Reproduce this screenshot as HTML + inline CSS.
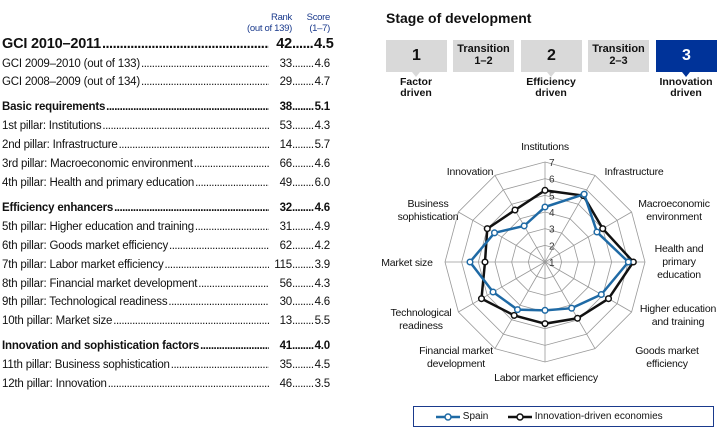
<!DOCTYPE html>
<html><head><meta charset="utf-8"><style>
body{margin:0;width:727px;height:441px;background:#fff;font-family:"Liberation Sans",sans-serif;color:#111;position:relative;overflow:hidden}
.row{position:absolute;left:2px;width:328px;height:16px;font-size:11.5px;line-height:16px;display:flex;white-space:nowrap;letter-spacing:-0.2px}
.row .l{flex:0 0 auto}
.row .d{flex:1 1 auto;overflow:hidden;margin:0 1px;letter-spacing:-0.5px}
.row .d::after{content:"........................................................................................................................................................................"}
.row .r{width:22px;text-align:right;flex:0 0 auto}
.row .d2{width:22px;overflow:hidden;flex:0 0 auto;letter-spacing:-0.5px}
.row .d2::after{content:"...................."}
.row .s{width:16px;text-align:right;flex:0 0 auto}
.b{font-weight:bold}
.big{font-size:14.5px;font-weight:bold}
.hdr{position:absolute;color:#1a3a8c;font-size:9.5px;text-align:right;line-height:11px;white-space:nowrap;letter-spacing:-0.3px}
.box{position:absolute;top:40px;width:61px;height:32px;background:#d9d9d9;text-align:center;font-weight:bold}
.box .n{font-size:16px;line-height:32px}
.box .t{font-size:11px;line-height:12px;padding-top:3px}
.box .tri{position:absolute;left:26px;bottom:-5px;width:0;height:0;border-left:4px solid transparent;border-right:4px solid transparent;border-top:5px solid #d9d9d9}
.lab{position:absolute;top:77px;width:70px;text-align:center;font-size:10.5px;font-weight:bold;line-height:11px}
</style></head><body>
<div class="hdr" style="left:232px;top:12px;width:60px">Rank<br>(out of 139)</div>
<div class="hdr" style="left:300px;top:12px;width:30px">Score<br>(1–7)</div>
<div id="table"></div>

<div style="position:absolute;left:386px;top:10px;font-size:14px;font-weight:bold">Stage of development</div>
<div class="box" style="left:386px"><div class="n">1</div><div class="tri"></div></div>
<div class="box" style="left:453px"><div class="t">Transition<br>1–2</div></div>
<div class="box" style="left:521px"><div class="n">2</div><div class="tri"></div></div>
<div class="box" style="left:588px"><div class="t">Transition<br>2–3</div></div>
<div class="box" style="left:656px;background:#003399;color:#fff"><div class="n">3</div><div class="tri" style="border-top-color:#003399"></div></div>
<div class="lab" style="left:381px">Factor<br>driven</div>
<div class="lab" style="left:516px">Efficiency<br>driven</div>
<div class="lab" style="left:651px">Innovation<br>driven</div>

<svg id="radar" width="727" height="441" style="position:absolute;left:0;top:0"></svg>

<div style="position:absolute;left:413px;top:406px;width:299px;height:19px;border:1px solid #1a3a8c;font-size:10px;line-height:19px">
 <span style="position:absolute;left:22px;display:flex;align-items:center;height:19px"><svg width="24" height="10"><line x1="0" y1="5" x2="24" y2="5" stroke="#1f6aa5" stroke-width="2.5"/><circle cx="12" cy="5" r="3" fill="#fff" stroke="#1f6aa5" stroke-width="1.5"/></svg>&nbsp;Spain</span>
 <span style="position:absolute;left:94px;display:flex;align-items:center;height:19px"><svg width="24" height="10"><line x1="0" y1="5" x2="24" y2="5" stroke="#111" stroke-width="2.5"/><circle cx="12" cy="5" r="3" fill="#fff" stroke="#111" stroke-width="1.5"/></svg>&nbsp;Innovation-driven economies</span>
</div>

<script>
const rows=[
["GCI 2010–2011","42","4.5",44,"big"],
["GCI 2009–2010 (out of 133)","33","4.6",64,""],
["GCI 2008–2009 (out of 134)","29","4.7",82,""],
["Basic requirements","38","5.1",107,"b"],
["1st pillar: Institutions","53","4.3",126,""],
["2nd pillar: Infrastructure","14","5.7",145,""],
["3rd pillar: Macroeconomic environment","66","4.6",164,""],
["4th pillar: Health and primary education","49","6.0",183,""],
["Efficiency enhancers","32","4.6",208,"b"],
["5th pillar: Higher education and training","31","4.9",227,""],
["6th pillar: Goods market efficiency","62","4.2",246,""],
["7th pillar: Labor market efficiency","115","3.9",265,""],
["8th pillar: Financial market development","56","4.3",284,""],
["9th pillar: Technological readiness","30","4.6",302,""],
["10th pillar: Market size","13","5.5",321,""],
["Innovation and sophistication factors","41","4.0",346,"b"],
["11th pillar: Business sophistication","35","4.5",365,""],
["12th pillar: Innovation","46","3.5",384,""]];
const t=document.getElementById('table');
rows.forEach(r=>{const d=document.createElement('div');d.className='row '+r[4];d.style.top=(r[3]-8)+'px';


if(r[4]=='big')d.style.height='20px';
d.innerHTML=`<span class="l">${r[0]}</span><span class="d"></span><span class="r">${r[1]}</span><span class="d2"></span><span class="s">${r[2]}</span>`;t.appendChild(d);});

const categories=["Institutions","Infrastructure","Macroeconomic environment","Health and primary education","Higher education and training","Goods market efficiency","Labor market efficiency","Financial market development","Technological readiness","Market size","Business sophistication","Innovation"];
const spain=[4.3,5.7,4.6,6.0,4.9,4.2,3.9,4.3,4.6,5.5,4.5,3.5];
const innov=[5.3,5.6,5.0,6.3,5.4,4.9,4.7,4.7,5.4,4.6,5.0,4.6];
const ticks=[1,2,3,4,5,6,7];
const labelLines=[["Institutions"],["Infrastructure"],["Macroeconomic","environment"],["Health and","primary","education"],["Higher education","and training"],["Goods market","efficiency"],["Labor market efficiency"],["Financial market","development"],["Technological","readiness"],["Market size"],["Business","sophistication"],["Innovation"]];
// layout: label centre (x) and first baseline (y) for each category
const labelX=[545,634,674,679,678,667,546,456,421,407,428,470];
const labelY=[150,175,207,252,312,354,381,354,316,266,207,175];
const cx=545,cy=262,R=100,vmin=1,vmax=7;
const ns='http://www.w3.org/2000/svg',svg=document.getElementById('radar');
function rr(v){return (v-vmin)/(vmax-vmin)*R;}
function pt(i,v){const a=-Math.PI/2+i*2*Math.PI/categories.length;return [cx+rr(v)*Math.cos(a),cy+rr(v)*Math.sin(a)];}
function el(tag,at){const e=document.createElementNS(ns,tag);for(const k in at)e.setAttribute(k,at[k]);svg.appendChild(e);return e;}
ticks.forEach(tk=>{if(tk==vmin)return;const p=categories.map((c,i)=>pt(i,tk).join(',')).join(' ');
const g=el('polygon',{points:p,fill:'none',stroke:'#999','stroke-width':0.8});

});
categories.forEach((c,i)=>{const p=pt(i,vmax);const l=el('line',{x1:cx,y1:cy,x2:p[0],y2:p[1],stroke:'#999','stroke-width':0.8});

});
ticks.forEach(tk=>{const tx=el('text',{x:cx+4,y:cy-rr(tk)+4,'font-size':10,'font-family':'Liberation Sans, sans-serif',fill:'#333'});tx.textContent=tk;

});
categories.forEach((c,i)=>{
const tx=el('text',{x:labelX[i],y:labelY[i],'text-anchor':'middle','font-size':10.5,'font-family':'Liberation Sans, sans-serif',fill:'#111','letter-spacing':'-0.2'});
labelLines[i].forEach((ln,k)=>{const ts=document.createElementNS(ns,'tspan');ts.setAttribute('x',labelX[i]);ts.setAttribute('dy',k?13:0);ts.textContent=ln;tx.appendChild(ts);});

});
function series(vals,color,name){const p=vals.map((v,i)=>pt(i,v).join(',')).join(' ');
const pg=el('polygon',{points:p,fill:'none',stroke:color,'stroke-width':2.5});


vals.forEach((v,i)=>{const q=pt(i,v);const c=el('circle',{cx:q[0],cy:q[1],r:2.8,fill:'#fff',stroke:color,'stroke-width':1.5});

});}
series(innov,'#111','innovation-driven');
series(spain,'#1f6aa5','spain');
</script>
</body></html>
